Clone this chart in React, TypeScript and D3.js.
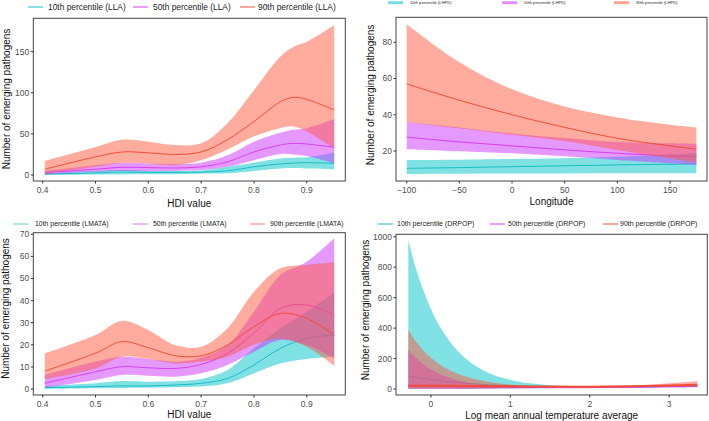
import React from 'react';
import * as d3 from 'd3';

// ---------- Panel 1: HDI value (LLA) ----------
const llaX = [0.404, 0.5, 0.55, 0.6, 0.65, 0.7, 0.75, 0.8, 0.85, 0.875, 0.9, 0.952];
const llaP10Line = [1, 2.5, 3.6, 3.2, 3.2, 3.6, 5, 10, 13.4, 14.5, 15, 14];
const llaP10Lo = [0, 0.5, 0.7, 1, 1, 1.5, 2, 5, 8, 8.5, 8, 7];
const llaP10Hi = [2.5, 5, 6, 5, 5, 5.5, 10, 15, 20, 21, 21.5, 27];
const llaP50Line = [3, 7, 9.4, 9, 8.5, 10, 16, 28, 36.5, 38.5, 37.7, 33.7];
const llaP50Lo = [1, 4, 5, 4.6, 5, 6, 10, 18, 25.5, 25, 23, 14];
const llaP50Hi = [5, 12, 15, 14, 13.4, 15, 24, 40.5, 51.5, 55, 57, 68];
const llaP90Line = [7, 22, 28, 27, 25, 28, 43, 65, 89, 94.5, 92, 79];
const llaP90Lo = [2, 10, 15, 14, 12, 18, 31, 47, 57, 59, 53, 32.5];
const llaP90Hi = [17, 34, 43, 40.5, 36.5, 38.5, 63, 103, 144, 156, 162, 182];

// ---------- Panel 2: Longitude (LHPD) ----------
const lhpdX = [-100, -50, 0, 50, 100, 150, 175];
const lhpdP10Line = [10.4, 10.8, 11.3, 11.8, 12.3, 12.6, 12.8];
const lhpdP10Lo = [7.3, 7.4, 7.5, 7.6, 7.7, 7.7, 7.7];
const lhpdP10Hi = [15, 15.2, 15.5, 16, 16.8, 18, 18.8];
const lhpdP50Line = [27.6, 25, 22.8, 20.6, 18.7, 17.3, 16.9];
const lhpdP50Lo = [21, 19.8, 18.7, 17, 15, 13.2, 12.3];
const lhpdP50Hi = [36, 33, 29.7, 27.2, 25, 24.2, 23.9];
const lhpdP90Line = [57, 48, 40, 33, 27, 22.8, 21];
const lhpdP90Lo = [36, 32.5, 29, 25.5, 20.5, 16, 13.5];
const lhpdP90Hi = [90, 69, 54, 44.5, 38.5, 34.5, 33];

// ---------- Panel 3: HDI value (LMATA) ----------
const lmataX = [0.404, 0.5, 0.55, 0.6, 0.65, 0.7, 0.75, 0.8, 0.85, 0.9, 0.952];
const lmataP10Line = [0.6, 1.1, 1.4, 1.4, 1.8, 2.6, 4.8, 10.9, 18.4, 22.9, 24.4];
const lmataP10Lo = [0, 0.3, 0.5, 0.6, 0.8, 1.1, 2.6, 7.1, 11.6, 13.6, 14.6];
const lmataP10Hi = [1.4, 2.6, 3.6, 3.3, 3.5, 4.5, 8.6, 18.4, 27.5, 35, 43.8];
const lmataP50Line = [2.6, 7.8, 10.1, 9.6, 9.3, 11.1, 16.1, 25.2, 36.5, 38, 33.5];
const lmataP50Lo = [0.6, 4.1, 6.3, 6, 5.6, 7.1, 10.9, 16.9, 22.2, 19.9, 13.9];
const lmataP50Hi = [6.3, 12.4, 14.6, 13.6, 12.4, 14.2, 19.9, 35, 51.6, 57.6, 68.2];
const lmataP90Line = [8.1, 16.2, 21.4, 18.7, 15.1, 15, 19.9, 28.2, 34.2, 32, 24.4];
const lmataP90Lo = [4.5, 9.3, 14.6, 13.6, 11.6, 12.4, 14.6, 20, 22.9, 19.1, 10.5];
const lmataP90Hi = [16.1, 24.4, 30.8, 26.7, 19.9, 19.1, 27.5, 44, 54.6, 56.1, 57.3];

// ---------- Panel 4: Log mean annual temperature average (DRPOP) ----------
const drpopX = [-0.285, -0.2, -0.1, 0, 0.1, 0.2, 0.3, 0.5, 0.75, 1, 1.25, 1.5, 2, 2.5, 3, 3.354];
const drpopP10Line = [85, 78, 70, 62, 55, 49, 44, 36, 28, 22, 18, 15, 12, 14, 17, 18];
const drpopP10Lo = [2, 2, 2, 2, 2, 2, 2, 2, 3, 4, 5, 6, 8, 10, 12, 14];
const drpopP10Hi = [980, 810, 655, 525, 420, 340, 272, 175, 100, 60, 38, 25, 15, 17, 22, 25];
const drpopP50Line = [20, 19, 18, 17, 16, 15, 14, 13, 12, 11, 10, 10, 10, 12, 16, 20];
const drpopP50Lo = [1, 1, 1, 1, 1, 1, 1, 1, 2, 3, 4, 5, 6, 8, 10, 12];
const drpopP50Hi = [260, 210, 165, 130, 102, 80, 63, 40, 25, 18, 14, 12, 11, 14, 20, 25];
const drpopP90Line = [22, 22, 22, 22, 21, 21, 21, 20, 19, 18, 17, 16, 15, 18, 24, 28];
const drpopP90Lo = [3, 3, 3, 3, 3, 4, 4, 5, 6, 7, 7, 8, 9, 12, 15, 16];
const drpopP90Hi = [390, 320, 255, 205, 165, 133, 108, 72, 45, 30, 22, 17, 13, 20, 38, 52];

// ---------- ticks / labels ----------
const hdiTicks = [0.4, 0.5, 0.6, 0.7, 0.8, 0.9];
const llaYTicks = [0, 50, 100, 150];
const lonTicks = [-100, -50, 0, 50, 100, 150];
const lhpdYTicks = [20, 40, 60, 80];
const lmataYTicks = [0, 10, 20, 30, 40, 50, 60, 70];
const tempTicks = [0, 1, 2, 3];
const drpopYTicks = [0, 200, 400, 600, 800, 1000];

const pctNames = ['10th percentile', '50th percentile', '90th percentile'];

const LINE_COLORS = ['#17BEC4', '#D63FEF', '#F24C38'];
const FILL_COLORS = ['#00C3C9', '#CC33FF', '#FF5A40'];
const FONT = '"Liberation Sans", Arial, Helvetica, sans-serif';

type Series = { line: number[]; lo: number[]; hi: number[] };

interface PanelProps {
  x: number[];
  series: Series[];
  box: [number, number, number, number];
  xDomain: [number, number];
  yDomain: [number, number];
  xTicks: number[];
  yTicks: number[];
  xFmt: (v: number) => string;
  xTitle: string;
  xTitleY: number;
  yTitleX: number;
  yTitleY: number;
  tag: string;
  legendY: number;
  legendLineX: number[];
  legendLineW: number;
  legendTextX: number[];
  legendFont: number;
  legendStroke: number;
  legendColors: string[];
  legendOpacity: number;
  lineWidths: number[];
}

function Panel(p: PanelProps) {
  const [l, t, r, b] = p.box;
  const xs = d3.scaleLinear().domain(p.xDomain).range([l, r]);
  const ys = d3.scaleLinear().domain(p.yDomain).range([b, t]);
  const idx = p.x.map((_, i) => i);
  const curve = d3.curveCatmullRom.alpha(0.5);
  const area = (s: Series) =>
    d3
      .area<number>()
      .x((i) => xs(p.x[i]))
      .y0((i) => ys(s.lo[i]))
      .y1((i) => ys(s.hi[i]))
      .curve(curve)(idx) || '';
  const line = (s: Series) =>
    d3
      .line<number>()
      .x((i) => xs(p.x[i]))
      .y((i) => ys(s.line[i]))
      .curve(curve)(idx) || '';
  const tickColor = '#333';
  return (
    <g fontFamily={FONT}>
      {p.series.map((s, k) => (
        <g key={k}>
          <path d={area(s)} fill={FILL_COLORS[k]} fillOpacity={0.5} stroke="none" />
          <path d={line(s)} fill="none" stroke={LINE_COLORS[k]} strokeWidth={p.lineWidths[k]} />
        </g>
      ))}
      <rect x={l} y={t} width={r - l} height={b - t} fill="none" stroke="#444" strokeWidth={1} />
      {p.yTicks.map((v) => (
        <g key={'y' + v}>
          <line x1={l - 2.5} x2={l} y1={ys(v)} y2={ys(v)} stroke={tickColor} strokeWidth={1} />
          <text x={l - 4} y={ys(v)} dy="0.35em" textAnchor="end" fontSize={8.5} fill="#4d4d4d">
            {v}
          </text>
        </g>
      ))}
      {p.xTicks.map((v) => (
        <g key={'x' + v}>
          <line x1={xs(v)} x2={xs(v)} y1={b} y2={b + 2.5} stroke={tickColor} strokeWidth={1} />
          <text x={xs(v)} y={b + 9} dy="0.35em" textAnchor="middle" fontSize={8.5} fill="#4d4d4d">
            {p.xFmt(v)}
          </text>
        </g>
      ))}
      <text x={(l + r) / 2} y={p.xTitleY} dy="0.35em" textAnchor="middle" fontSize={10} fill="#111">
        {p.xTitle}
      </text>
      <text
        transform={`translate(${p.yTitleX},${p.yTitleY}) rotate(-90)`}
        dy="0.35em"
        textAnchor="middle"
        fontSize={10}
        fill="#111"
      >
        Number of emerging pathogens
      </text>
      {pctNames.map((n, k) => (
        <g key={'lg' + k}>
          <line
            x1={p.legendLineX[k]}
            x2={p.legendLineX[k] + p.legendLineW}
            y1={p.legendY}
            y2={p.legendY}
            stroke={p.legendColors[k]}
            strokeOpacity={p.legendOpacity}
            strokeWidth={p.legendStroke}
          />
          <text x={p.legendTextX[k]} y={p.legendY} dy="0.35em" fontSize={p.legendFont} fill="#222">
            {`${n} (${p.tag})`}
          </text>
        </g>
      ))}
    </g>
  );
}

const fmt1 = d3.format('.1f');
const fmtInt = (v: number) => (v < 0 ? '\u2212' + Math.abs(v) : String(v));

export default function App() {
  return (
    <svg
      width={709}
      height={421}
      viewBox="0 0 709 421"
      style={{ position: 'absolute', left: 0, top: 0, background: '#fff' }}
    >
      <rect width={709} height={421} fill="#fff" />
      <Panel
        x={llaX}
        series={[
          { line: llaP10Line, lo: llaP10Lo, hi: llaP10Hi },
          { line: llaP50Line, lo: llaP50Lo, hi: llaP50Hi },
          { line: llaP90Line, lo: llaP90Lo, hi: llaP90Hi },
        ]}
        box={[33.3, 18.3, 345.3, 181]}
        xDomain={[0.3822, 0.973]}
        yDomain={[-7.3, 190.6]}
        xTicks={hdiTicks}
        yTicks={llaYTicks}
        xFmt={fmt1}
        xTitle="HDI value"
        xTitleY={203}
        yTitleX={6}
        yTitleY={99}
        tag="LLA"
        legendY={7}
        legendLineX={[28, 133, 240]}
        legendLineW={15}
        legendTextX={[48, 153, 258]}
        legendFont={8.4}
        legendStroke={1}
        legendColors={LINE_COLORS}
        legendOpacity={1}
        lineWidths={[1, 1, 1]}
      />
      <Panel
        x={lhpdX}
        series={[
          { line: lhpdP10Line, lo: lhpdP10Lo, hi: lhpdP10Hi },
          { line: lhpdP50Line, lo: lhpdP50Lo, hi: lhpdP50Hi },
          { line: lhpdP90Line, lo: lhpdP90Lo, hi: lhpdP90Hi },
        ]}
        box={[396, 17.3, 707, 181]}
        xDomain={[-110.2, 185.1]}
        yDomain={[3.4, 93.8]}
        xTicks={lonTicks}
        yTicks={lhpdYTicks}
        xFmt={fmtInt}
        xTitle="Longitude"
        xTitleY={201.7}
        yTitleX={370}
        yTitleY={95}
        tag="LHPD"
        legendY={2.7}
        legendLineX={[388, 502, 614]}
        legendLineW={15}
        legendTextX={[410, 524, 636]}
        legendFont={4.1}
        legendStroke={3}
        legendColors={FILL_COLORS}
        legendOpacity={0.55}
        lineWidths={[1, 1, 1]}
      />
      <Panel
        x={lmataX}
        series={[
          { line: lmataP10Line, lo: lmataP10Lo, hi: lmataP10Hi },
          { line: lmataP50Line, lo: lmataP50Lo, hi: lmataP50Hi },
          { line: lmataP90Line, lo: lmataP90Lo, hi: lmataP90Hi },
        ]}
        box={[33.3, 232.7, 345.3, 395]}
        xDomain={[0.3822, 0.973]}
        yDomain={[-2.7, 70.7]}
        xTicks={hdiTicks}
        yTicks={lmataYTicks}
        xFmt={fmt1}
        xTitle="HDI value"
        xTitleY={414.3}
        yTitleX={5.5}
        yTitleY={308.5}
        tag="LMATA"
        legendY={224}
        legendLineX={[13, 133, 250]}
        legendLineW={15}
        legendTextX={[35, 153, 270]}
        legendFont={6.9}
        legendStroke={1}
        legendColors={LINE_COLORS}
        legendOpacity={0.7}
        lineWidths={[1, 1, 1]}
      />
      <Panel
        x={drpopX}
        series={[
          { line: drpopP10Line, lo: drpopP10Lo, hi: drpopP10Hi },
          { line: drpopP50Line, lo: drpopP50Lo, hi: drpopP50Hi },
          { line: drpopP90Line, lo: drpopP90Lo, hi: drpopP90Hi },
        ]}
        box={[396, 234.3, 707.3, 395]}
        xDomain={[-0.44, 3.48]}
        yDomain={[-39, 1016]}
        xTicks={tempTicks}
        yTicks={drpopYTicks}
        xFmt={(v) => String(v)}
        xTitle="Log mean annual temperature average"
        xTitleY={415}
        yTitleX={365.5}
        yTitleY={310}
        tag="DRPOP"
        legendY={224}
        legendLineX={[378, 490, 603]}
        legendLineW={15}
        legendTextX={[397, 508, 620]}
        legendFont={7}
        legendStroke={1}
        legendColors={LINE_COLORS}
        legendOpacity={1}
        lineWidths={[1, 1, 2]}
      />
    </svg>
  );
}
